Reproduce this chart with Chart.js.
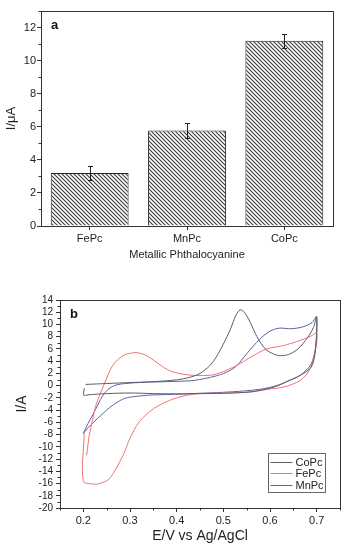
<!DOCTYPE html>
<html>
<head>
<meta charset="utf-8">
<script src="https://cdn.jsdelivr.net/npm/chart.js@4.4.1/dist/chart.umd.min.js"></script>
<style>
  body { margin: 0; background: #fff; }
  canvas { display: block; }
</style>
</head>
<body>
<canvas id="barChart" width="349" height="270"></canvas>
<canvas id="cvChart" width="349" height="280"></canvas>
<script>
// ===== PANEL A DATA =====
const metals = ["FePc", "MnPc", "CoPc"];
const currents = [3.2, 5.78, 11.2];
const currentErrors = [0.41, 0.43, 0.42];
const barTicks = [0, 2, 4, 6, 8, 10, 12];
const barMinorTicks = [1, 3, 5, 7, 9, 11, 13];

// ===== PANEL B DATA (E in V, I in A) =====
const coPcE = [0.205, 0.25, 0.3, 0.35, 0.4, 0.43, 0.45, 0.47, 0.485, 0.5, 0.515, 0.527, 0.536, 0.545, 0.558, 0.572, 0.59, 0.607, 0.622, 0.64, 0.66, 0.68, 0.693, 0.7,
               0.697, 0.688, 0.665, 0.64, 0.61, 0.56, 0.5, 0.45, 0.4, 0.35, 0.3, 0.25, 0.21, 0.201, 0.202];
const coPcI = [0.2, 0.35, 0.5, 0.65, 0.95, 1.4, 2.0, 3.2, 4.7, 6.8, 9.2, 11.5, 12.4, 12.0, 10.3, 8.0, 6.0, 5.2, 4.9, 5.1, 6.0, 7.8, 9.5, 11.3,
               5.5, 3.0, 1.7, 0.8, -0.2, -1.0, -1.25, -1.3, -1.35, -1.3, -1.2, -1.3, -1.5, -1.6, -0.4];

const fePcE = [0.207, 0.212, 0.22, 0.227, 0.245, 0.263, 0.285, 0.31, 0.33, 0.35, 0.37, 0.39, 0.42, 0.45, 0.48, 0.521, 0.564, 0.593, 0.629, 0.665, 0.69, 0.7,
               0.699, 0.686, 0.665, 0.629, 0.595, 0.557, 0.507, 0.45, 0.42, 0.385, 0.35, 0.32, 0.3, 0.285, 0.256, 0.235, 0.224, 0.2, 0.202];
const fePcI = [-11.4, -8.5, -5.5, -3.2, 0.3, 3.3, 4.9, 5.4, 5.1, 4.2, 3.1, 2.3, 1.8, 1.65, 1.8, 3.0, 4.9, 6.0, 6.56, 7.4, 8.2, 8.6,
               6.5, 2.75, 0.86, -0.23, -0.6, -1.05, -1.2, -1.3, -1.6, -2.4, -3.8, -5.9, -8.6, -11.4, -15.2, -16.0, -16.1, -15.6, -7.8];

const mnPcE = [0.2, 0.21, 0.22, 0.232, 0.242, 0.255, 0.27, 0.29, 0.33, 0.38, 0.43, 0.449, 0.48, 0.507, 0.528, 0.55, 0.578, 0.6, 0.62, 0.645, 0.67, 0.69, 0.7,
               0.698, 0.688, 0.665, 0.64, 0.614, 0.578, 0.52, 0.45, 0.38, 0.34, 0.32, 0.292, 0.275, 0.256, 0.23, 0.21, 0.2];
const mnPcI = [-7.8, -6.2, -4.8, -3.0, -1.6, -0.5, 0.1, 0.35, 0.55, 0.65, 0.8, 1.0, 1.5, 2.2, 3.2, 5.2, 7.6, 8.9, 9.4, 9.3, 9.6, 10.3, 11.3,
               6.5, 3.5, 1.7, 0.8, 0.0, -0.6, -1.0, -1.25, -1.45, -1.55, -1.7, -2.0, -2.6, -3.6, -5.4, -6.9, -7.8];

const cvXTicks = [0.2, 0.3, 0.4, 0.5, 0.6, 0.7];
const cvXMinorTicks = [0.15, 0.25, 0.35, 0.45, 0.55, 0.65, 0.75];
const cvYMinorTicks = [-19, -17, -15, -13, -11, -9, -7, -5, -3, -1, 1, 3, 5, 7, 9, 11, 13];

const FONT = "'Liberation Sans', Arial, sans-serif";
const INK = "#333";

// ===== HELPERS =====
function makeHatch() {
    const c = document.createElement("canvas");
    c.width = 4; c.height = 4;
    const g = c.getContext("2d");
    g.fillStyle = "#fff";
    g.fillRect(0, 0, 4, 4);
    g.strokeStyle = "#3a3a3a";
    g.lineWidth = 1.1;
    g.beginPath();
    g.moveTo(-1, -1); g.lineTo(5, 5);
    g.moveTo(-1, 3); g.lineTo(1, 5);
    g.moveTo(3, -1); g.lineTo(5, 1);
    g.stroke();
    return g.createPattern(c, "repeat");
}

function toPoints(xs, ys) {
    return xs.map((x, i) => ({ x: x, y: ys[i] }));
}

// frame, minor ticks and panel letter
function framePlugin(letter, minorX, minorY) {
    return {
        id: "frame" + letter,
        afterDraw(chart) {
            const { ctx, chartArea: a, scales } = chart;
            ctx.save();
            ctx.strokeStyle = INK;
            ctx.lineWidth = 1;
            ctx.strokeRect(Math.round(a.left) + 0.5, Math.round(a.top) + 0.5,
                Math.round(a.right - a.left), Math.round(a.bottom - a.top));
            ctx.beginPath();
            minorY.forEach(v => {
                const y = Math.round(scales.y.getPixelForValue(v)) + 0.5;
                ctx.moveTo(a.left, y); ctx.lineTo(a.left - 2.5, y);
            });
            minorX.forEach(v => {
                const x = Math.round(scales.x.getPixelForValue(v)) + 0.5;
                ctx.moveTo(x, a.bottom); ctx.lineTo(x, a.bottom + 2.5);
            });
            ctx.stroke();
            ctx.fillStyle = "#111";
            ctx.font = "bold 13px " + FONT;
            ctx.textBaseline = "middle";
            ctx.fillText(letter, a.left + 10, a.top + 14);
            ctx.restore();
        }
    };
}

// ===== PANEL A: BAR CHART =====
const errorBars = {
    id: "errorBars",
    afterDatasetsDraw(chart) {
        const meta = chart.getDatasetMeta(0);
        const y = chart.scales.y;
        const ctx = chart.ctx;
        ctx.save();
        ctx.strokeStyle = "#222";
        ctx.lineWidth = 1;
        ctx.beginPath();
        meta.data.forEach((bar, i) => {
            const top = Math.round(y.getPixelForValue(currents[i] + currentErrors[i])) + 0.5;
            const bot = Math.round(y.getPixelForValue(currents[i] - currentErrors[i])) + 0.5;
            const x = Math.round(bar.x) + 0.5;
            ctx.moveTo(x, top); ctx.lineTo(x, bot);
            ctx.moveTo(x - 2.5, top); ctx.lineTo(x + 2.5, top);
            ctx.moveTo(x - 2.5, bot); ctx.lineTo(x + 2.5, bot);
        });
        ctx.stroke();
        ctx.restore();
    }
};

new Chart(document.getElementById("barChart"), {
    type: "bar",
    data: {
        labels: metals,
        datasets: [{
            data: currents,
            backgroundColor: makeHatch(),
            borderColor: "#222",
            borderWidth: 1,
            barPercentage: 0.8,
            categoryPercentage: 1
        }]
    },
    options: {
        responsive: false,
        animation: false,
        layout: { padding: { top: 11, right: 16, left: 0, bottom: 0 } },
        plugins: { legend: { display: false }, tooltip: { enabled: false } },
        scales: {
            x: {
                afterFit: s => { s.height = 44; },
                grid: { offset: false, drawOnChartArea: false, tickLength: 4, color: INK },
                border: { display: false },
                ticks: { color: "#222", padding: 2, font: { family: FONT, size: 11 } },
                title: {
                    display: true, text: "Metallic Phthalocyanine", color: "#222",
                    padding: { top: 0, bottom: 8 }, font: { family: FONT, size: 11 }
                }
            },
            y: {
                min: 0, max: 13,
                afterFit: s => { s.width = 41; },
                afterBuildTicks: s => { s.ticks = barTicks.map(v => ({ value: v })); },
                grid: { drawOnChartArea: false, tickLength: 4, color: INK },
                border: { display: false },
                ticks: { color: "#222", padding: 1, font: { family: FONT, size: 11 } },
                title: {
                    display: true, text: "I/μA", color: "#222",
                    padding: { top: 4, bottom: 0 }, font: { family: FONT, size: 13 }
                }
            }
        }
    },
    plugins: [errorBars, framePlugin("a", [], barMinorTicks)]
});

// ===== PANEL B: CYCLIC VOLTAMMOGRAMS =====
const cvLegend = {
    id: "cvLegend",
    afterDraw(chart) {
        const { ctx, chartArea: a } = chart;
        const w = 57, h = 39;
        const left = Math.round(a.right - 15 - w) + 0.5;
        const top = Math.round(a.bottom - 16 - h) + 0.5;
        ctx.save();
        ctx.strokeStyle = "#666";
        ctx.lineWidth = 1;
        ctx.fillStyle = "#fff";
        ctx.fillRect(left, top, w, h);
        ctx.strokeRect(left, top, w, h);
        ctx.font = "11px " + FONT;
        ctx.textBaseline = "middle";
        chart.data.datasets.forEach((ds, i) => {
            const y = top + 8 + i * 11.8;
            ctx.strokeStyle = ds.borderColor;
            ctx.beginPath();
            ctx.moveTo(left + 2, Math.round(y) + 0.5);
            ctx.lineTo(left + 24, Math.round(y) + 0.5);
            ctx.stroke();
            ctx.fillStyle = "#222";
            ctx.fillText(ds.label, left + 27, y + 1);
        });
        ctx.restore();
    }
};

new Chart(document.getElementById("cvChart"), {
    type: "scatter",
    data: {
        datasets: [
            { label: "CoPc", data: toPoints(coPcE, coPcI), borderColor: "#5b5b66" },
            { label: "FePc", data: toPoints(fePcE, fePcI), borderColor: "#f07373" },
            { label: "MnPc", data: toPoints(mnPcE, mnPcI), borderColor: "#5f5fb0" }
        ]
    },
    options: {
        responsive: false,
        animation: false,
        showLine: true,
        elements: {
            point: { radius: 0 },
            line: { borderWidth: 1, tension: 0.3, fill: false }
        },
        layout: { padding: { top: 30, right: 9, left: 0, bottom: 0 } },
        plugins: { legend: { display: false }, tooltip: { enabled: false } },
        scales: {
            x: {
                type: "linear", min: 0.15, max: 0.75,
                afterFit: s => { s.height = 42; },
                afterBuildTicks: s => { s.ticks = cvXTicks.map(v => ({ value: v })); },
                grid: { drawOnChartArea: false, tickLength: 4, color: INK },
                border: { display: false },
                ticks: {
                    color: "#222", padding: 2, font: { family: FONT, size: 11 },
                    callback: v => v.toFixed(1)
                },
                title: {
                    display: true, text: "E/V vs Ag/AgCl", color: "#222",
                    padding: { top: 0, bottom: 5 }, font: { family: FONT, size: 14 }
                }
            },
            y: {
                min: -20, max: 14,
                afterFit: s => { s.width = 60; },
                grid: { drawOnChartArea: false, tickLength: 4, color: INK },
                border: { display: false },
                ticks: {
                    stepSize: 2, autoSkip: false, color: "#222", padding: 3,
                    font: { family: FONT, size: 10 }
                },
                title: {
                    display: true, text: "I/A", color: "#222",
                    padding: { top: 14, bottom: 0 }, font: { family: FONT, size: 14 }
                }
            }
        }
    },
    plugins: [cvLegend, framePlugin("b", cvXMinorTicks, cvYMinorTicks)]
});
</script>
</body>
</html>
